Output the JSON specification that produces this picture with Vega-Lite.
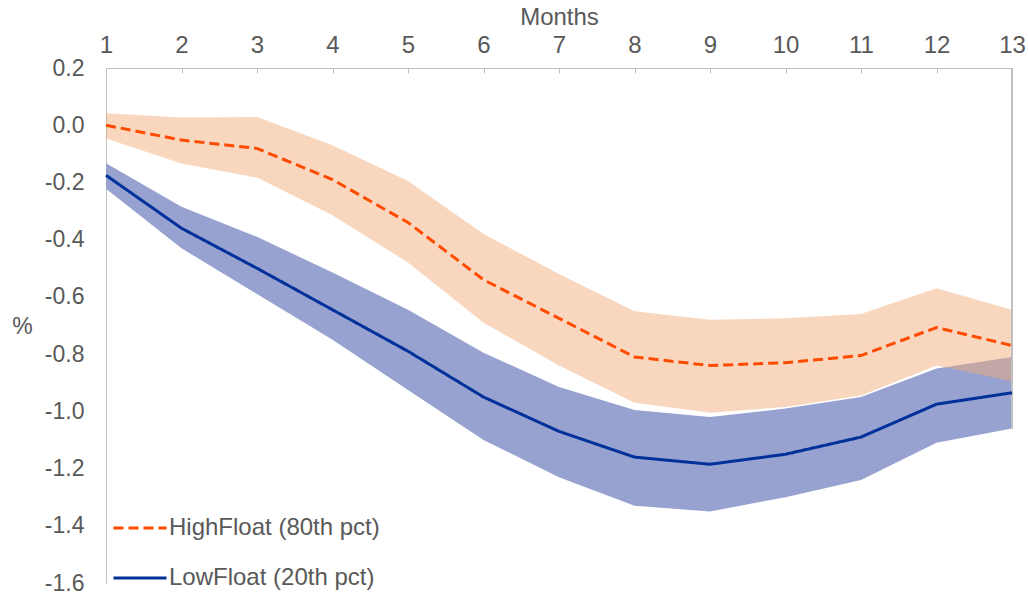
{
  "$schema": "https://vega.github.io/schema/vega-lite/v6.json",
  "autosize": "none",
  "width": 906,
  "height": 515,
  "padding": {"left": 106, "top": 68, "right": 16, "bottom": 9},
  "background": "white",
  "config": {
    "font": "Liberation Sans",
    "view": {"stroke": null},
    "locale": {"number": {"decimal": ".", "thousands": ",", "grouping": [3], "currency": ["$", ""], "minus": "-"}},
    "axis": {"grid": false, "domainColor": "#BFBFBF", "tickColor": "#BFBFBF", "labelColor": "#595959", "titleColor": "#595959", "labelFont": "Liberation Sans", "titleFont": "Liberation Sans", "titleFontWeight": "normal"}
  },
  "data": {"values": [
    {"month": 1, "series": "HighFloat (80th pct)", "mid": 0.0, "lo": -0.046, "hi": 0.042},
    {"month": 2, "series": "HighFloat (80th pct)", "mid": -0.052, "lo": -0.134, "hi": 0.027},
    {"month": 3, "series": "HighFloat (80th pct)", "mid": -0.081, "lo": -0.183, "hi": 0.029},
    {"month": 4, "series": "HighFloat (80th pct)", "mid": -0.19, "lo": -0.315, "hi": -0.07},
    {"month": 5, "series": "HighFloat (80th pct)", "mid": -0.34, "lo": -0.48, "hi": -0.195},
    {"month": 6, "series": "HighFloat (80th pct)", "mid": -0.54, "lo": -0.69, "hi": -0.38},
    {"month": 7, "series": "HighFloat (80th pct)", "mid": -0.675, "lo": -0.84, "hi": -0.52},
    {"month": 8, "series": "HighFloat (80th pct)", "mid": -0.81, "lo": -0.97, "hi": -0.65},
    {"month": 9, "series": "HighFloat (80th pct)", "mid": -0.84, "lo": -1.005, "hi": -0.68},
    {"month": 10, "series": "HighFloat (80th pct)", "mid": -0.83, "lo": -0.985, "hi": -0.675},
    {"month": 11, "series": "HighFloat (80th pct)", "mid": -0.805, "lo": -0.945, "hi": -0.66},
    {"month": 12, "series": "HighFloat (80th pct)", "mid": -0.707, "lo": -0.84, "hi": -0.57},
    {"month": 13, "series": "HighFloat (80th pct)", "mid": -0.77, "lo": -0.895, "hi": -0.645},
    {"month": 1, "series": "LowFloat (20th pct)", "mid": -0.175, "lo": -0.222, "hi": -0.133},
    {"month": 2, "series": "LowFloat (20th pct)", "mid": -0.36, "lo": -0.43, "hi": -0.285},
    {"month": 3, "series": "LowFloat (20th pct)", "mid": -0.5, "lo": -0.59, "hi": -0.39},
    {"month": 4, "series": "LowFloat (20th pct)", "mid": -0.645, "lo": -0.75, "hi": -0.515},
    {"month": 5, "series": "LowFloat (20th pct)", "mid": -0.79, "lo": -0.925, "hi": -0.645},
    {"month": 6, "series": "LowFloat (20th pct)", "mid": -0.95, "lo": -1.1, "hi": -0.795},
    {"month": 7, "series": "LowFloat (20th pct)", "mid": -1.07, "lo": -1.23, "hi": -0.915},
    {"month": 8, "series": "LowFloat (20th pct)", "mid": -1.16, "lo": -1.33, "hi": -0.995},
    {"month": 9, "series": "LowFloat (20th pct)", "mid": -1.185, "lo": -1.35, "hi": -1.02},
    {"month": 10, "series": "LowFloat (20th pct)", "mid": -1.15, "lo": -1.3, "hi": -0.99},
    {"month": 11, "series": "LowFloat (20th pct)", "mid": -1.09, "lo": -1.24, "hi": -0.95},
    {"month": 12, "series": "LowFloat (20th pct)", "mid": -0.975, "lo": -1.11, "hi": -0.85},
    {"month": 13, "series": "LowFloat (20th pct)", "mid": -0.935, "lo": -1.06, "hi": -0.81}
  ]},
  "encoding": {
    "x": {"field": "month", "type": "quantitative", "scale": {"domain": [1, 13], "nice": false, "zero": false},
      "axis": {"orient": "top", "title": "Months", "values": [1,2,3,4,5,6,7,8,9,10,11,12,13], "format": "d", "labelFontSize": 24, "labelPadding": 16, "labelFlush": false, "labelOverlap": false, "tickSize": -5, "titleFontSize": 24, "titlePadding": 4}},
    "y": {"field": "mid", "type": "quantitative", "scale": {"domain": [-1.6, 0.2], "nice": false, "zero": false},
      "axis": {"orient": "left", "title": "%", "values": [-1.6,-1.4,-1.2,-1.0,-0.8,-0.6,-0.4,-0.2,0.0,0.2], "format": ".1f", "ticks": false, "labelFontSize": 23, "labelPadding": 22, "labelFlush": false, "labelOverlap": false, "titleFontSize": 23, "titleAngle": 0, "titleX": -84, "titleY": 258, "titleAlign": "center", "titleBaseline": "middle"}}
  },
  "layer": [
    {
      "transform": [{"filter": "datum.series === 'LowFloat (20th pct)'"}],
      "mark": {"type": "area", "color": "#98A2D0", "opacity": 1},
      "encoding": {"y": {"field": "lo", "type": "quantitative"}, "y2": {"field": "hi"}}
    },
    {
      "transform": [{"filter": "datum.series === 'HighFloat (80th pct)'"}],
      "mark": {"type": "area", "color": "rgb(243,172,121)", "opacity": 0.48},
      "encoding": {"y": {"field": "lo", "type": "quantitative"}, "y2": {"field": "hi"}}
    },
    {
      "mark": {"type": "rule", "color": "#BFBFBF", "strokeWidth": 1},
      "encoding": {"x": {"datum": 13}, "y": {"datum": 0.2}, "y2": {"datum": -1.06}}
    },
    {
      "mark": {"type": "line", "strokeWidth": 3},
      "encoding": {
        "color": {"field": "series", "type": "nominal",
          "scale": {"domain": ["HighFloat (80th pct)", "LowFloat (20th pct)"], "range": ["#FF4B00", "#00309A"]},
          "legend": {"title": null, "orient": "none", "legendX": 6, "legendY": 432, "symbolType": "stroke", "symbolSize": 2809, "symbolStrokeWidth": 3, "labelFontSize": 24, "labelColor": "#595959", "labelFont": "Liberation Sans", "labelOffset": 1, "labelLimit": 0, "rowPadding": 10, "padding": 0}},
        "strokeDash": {"field": "series", "type": "nominal",
          "scale": {"domain": ["HighFloat (80th pct)", "LowFloat (20th pct)"], "range": [[10, 5], [1, 0]]},
          "legend": {"title": null, "orient": "none", "legendX": 6, "legendY": 432, "symbolType": "stroke", "symbolSize": 2809, "symbolStrokeWidth": 3, "labelFontSize": 24, "labelColor": "#595959", "labelFont": "Liberation Sans", "labelOffset": 1, "labelLimit": 0, "rowPadding": 10, "padding": 0}}
      }
    }
  ]
}
